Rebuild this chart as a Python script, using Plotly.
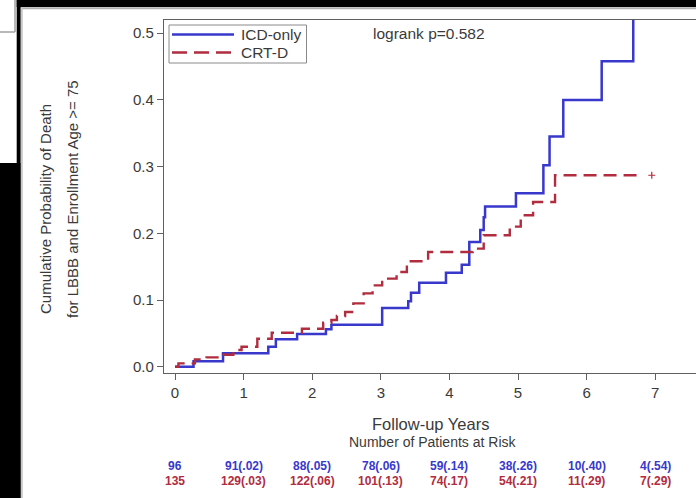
import plotly.graph_objects as go

W, H = 696, 498

# Kaplan-Meier cumulative death probability, ICD-only arm
icd_years = [0, 0.27, 0.70, 1.36, 1.47, 1.78, 2.20, 2.28, 3.02, 3.40, 3.44, 3.56,
             3.95, 4.18, 4.29, 4.45, 4.50, 4.52, 4.97, 5.37, 5.46, 5.66, 6.22, 6.68]
icd_prob = [0, 0.008, 0.020, 0.030, 0.041, 0.049, 0.056, 0.063, 0.088, 0.098, 0.111, 0.126,
            0.141, 0.153, 0.187, 0.205, 0.224, 0.240, 0.260, 0.302, 0.345, 0.400, 0.458, 0.540]

# Kaplan-Meier cumulative death probability, CRT-D arm
crt_years = [0, 0.05, 0.29, 0.46, 0.70, 0.85, 0.97, 1.20, 1.41, 1.85, 2.16, 2.28, 2.36,
             2.48, 2.60, 2.75, 2.88, 3.02, 3.23, 3.38, 3.69, 4.34, 4.50, 4.88, 5.04, 5.22,
             5.54, 6.83]
crt_prob = [0, 0.005, 0.011, 0.014, 0.018, 0.025, 0.030, 0.042, 0.051, 0.057, 0.066, 0.070,
            0.076, 0.082, 0.095, 0.110, 0.122, 0.132, 0.142, 0.158, 0.172, 0.177, 0.197,
            0.210, 0.227, 0.247, 0.287, 0.287]
crt_censor_years = [6.95]
crt_censor_prob = [0.287]

# Number at risk (cumulative probability) at each year
risk_years = [0, 1, 2, 3, 4, 5, 6, 7]
icd_at_risk = ["96", "91(.02)", "88(.05)", "78(.06)", "59(.14)", "38(.26)", "10(.40)", "4(.54)"]
crt_at_risk = ["135", "129(.03)", "122(.06)", "101(.13)", "74(.17)", "54(.21)", "11(.29)", "7(.29)"]

x_ticks = [0, 1, 2, 3, 4, 5, 6, 7]
y_ticks = [0.0, 0.1, 0.2, 0.3, 0.4, 0.5]
y_tick_text = ["0.0", "0.1", "0.2", "0.3", "0.4", "0.5"]

BLUE = "#3838cc"
RED = "#b02c3e"
TXT = "#3a3a3a"
FONT = "Liberation Sans, Arial, sans-serif"


def fx(px):
    return px / W


def fy(py):
    return 1 - py / H


fig = go.Figure()
fig.add_trace(go.Scatter(x=icd_years, y=icd_prob, mode="lines", line_shape="hv",
                         line=dict(color=BLUE, width=2.5), name="ICD-only",
                         showlegend=False))
fig.add_trace(go.Scatter(x=crt_years, y=crt_prob, mode="lines", line_shape="hv",
                         line=dict(color=RED, width=2.4, dash="13px,7px"), name="CRT-D",
                         showlegend=False))
fig.add_trace(go.Scatter(x=crt_censor_years, y=crt_censor_prob, mode="markers",
                         marker=dict(symbol="cross-thin", size=5,
                                     line=dict(color=RED, width=1.2)),
                         showlegend=False))

shapes = []
# outer dark frame around the panel
for x0, y0, x1, y1 in [(16.7, 0, 696, 7), (16.7, 0, 20.7, 498), (0, 163, 20.7, 498)]:
    shapes.append(dict(type="rect", xref="paper", yref="paper",
                       x0=fx(x0), x1=fx(x1), y0=fy(y1), y1=fy(y0),
                       fillcolor="black", line=dict(width=0), layer="above"))
# panel borders
shapes.append(dict(type="line", xref="paper", yref="paper", x0=fx(21), x1=fx(696),
                   y0=fy(8.2), y1=fy(8.2), line=dict(color="#b0b0b0", width=2)))
shapes.append(dict(type="line", xref="paper", yref="paper", x0=fx(21.8), x1=fx(21.8),
                   y0=fy(8), y1=fy(498), line=dict(color="#c8c8c8", width=2)))
# small neighbouring box in the corner
shapes.append(dict(type="line", xref="paper", yref="paper", x0=fx(15), x1=fx(15),
                   y0=fy(0), y1=fy(32), line=dict(color="#a0a0a0", width=1.5)))
shapes.append(dict(type="line", xref="paper", yref="paper", x0=fx(0), x1=fx(15),
                   y0=fy(32), y1=fy(32), line=dict(color="#a0a0a0", width=1.5)))

# legend box with line samples
shapes.append(dict(type="rect", xref="paper", yref="paper", x0=fx(169), x1=fx(306.5),
                   y0=fy(63), y1=fy(25), line=dict(color="#8a8a8a", width=1),
                   fillcolor="rgba(0,0,0,0)"))
shapes.append(dict(type="line", xref="paper", yref="paper", x0=fx(172), x1=fx(234),
                   y0=fy(34.5), y1=fy(34.5), line=dict(color=BLUE, width=2.3)))
shapes.append(dict(type="line", xref="paper", yref="paper", x0=fx(172), x1=fx(234),
                   y0=fy(52.5), y1=fy(52.5),
                   line=dict(color=RED, width=2.5, dash="15px,7px")))

annotations = []
annotations.append(dict(text="ICD-only", xref="paper", yref="paper", x=fx(239), y=fy(35),
                        xanchor="left", yanchor="middle", showarrow=False,
                        font=dict(family=FONT, size=15.5, color=TXT)))
annotations.append(dict(text="CRT-D", xref="paper", yref="paper", x=fx(239), y=fy(53),
                        xanchor="left", yanchor="middle", showarrow=False,
                        font=dict(family=FONT, size=15.5, color=TXT)))
annotations.append(dict(text="logrank p=0.582", xref="paper", yref="paper", x=fx(371),
                        y=fy(34), xanchor="left", yanchor="middle", showarrow=False,
                        font=dict(family=FONT, size=15.5, color=TXT)))

# y-axis title in two rotated lines
annotations.append(dict(text="Cumulative Probability of Death", xref="paper", yref="paper",
                        x=fx(45), y=fy(209), xanchor="center", yanchor="middle",
                        textangle=-90, showarrow=False,
                        font=dict(family=FONT, size=15, color=TXT)))
annotations.append(dict(text="for LBBB and Enrollment Age >= 75", xref="paper", yref="paper",
                        x=fx(72), y=fy(199), xanchor="center", yanchor="middle",
                        textangle=-90, showarrow=False,
                        font=dict(family=FONT, size=15, color=TXT)))

# x-axis title and risk table heading
annotations.append(dict(text="Follow-up Years", xref="paper", yref="paper", x=fx(431),
                        y=fy(423.5), xanchor="center", yanchor="middle", showarrow=False,
                        font=dict(family=FONT, size=16.5, color=TXT)))
annotations.append(dict(text="Number of Patients at Risk", xref="paper", yref="paper",
                        x=fx(433), y=fy(442), xanchor="center", yanchor="middle",
                        showarrow=False, font=dict(family=FONT, size=14, color=TXT)))

for yr, a, b in zip(risk_years, icd_at_risk, crt_at_risk):
    annotations.append(dict(text=a, xref="x", yref="paper", x=yr, y=fy(466),
                            xanchor="center", yanchor="middle", showarrow=False,
                            font=dict(family=FONT, size=12, color=BLUE, weight="bold")))
    annotations.append(dict(text=b, xref="x", yref="paper", x=yr, y=fy(481),
                            xanchor="center", yanchor="middle", showarrow=False,
                            font=dict(family=FONT, size=12, color=RED, weight="bold")))

x_lo = (164 - 175) / 68.6
x_hi = (696 - 175) / 68.6
y_lo = (366.7 - 373) / 667
y_hi = (366.7 - 20) / 667

fig.update_layout(
    width=W, height=H,
    margin=dict(l=0, r=0, t=0, b=0),
    paper_bgcolor="white", plot_bgcolor="white",
    showlegend=False,
    shapes=shapes, annotations=annotations,
    xaxis=dict(domain=[fx(164), 1], range=[x_lo, x_hi], tickvals=x_ticks,
               showgrid=False, zeroline=False, showline=True, mirror=True,
               linecolor="#606060", linewidth=1.2, ticks="outside", ticklen=6,
               tickcolor="#606060", automargin=False,
               tickfont=dict(family=FONT, size=15, color=TXT)),
    yaxis=dict(domain=[fy(373), fy(20)], range=[y_lo, y_hi], tickvals=y_ticks,
               ticktext=y_tick_text, showgrid=False, zeroline=False, showline=True,
               linecolor="#606060", linewidth=1.2, ticks="outside", ticklen=6,
               tickcolor="#606060", automargin=False,
               tickfont=dict(family=FONT, size=15, color=TXT)),
)

fig.write_html("out.html")
